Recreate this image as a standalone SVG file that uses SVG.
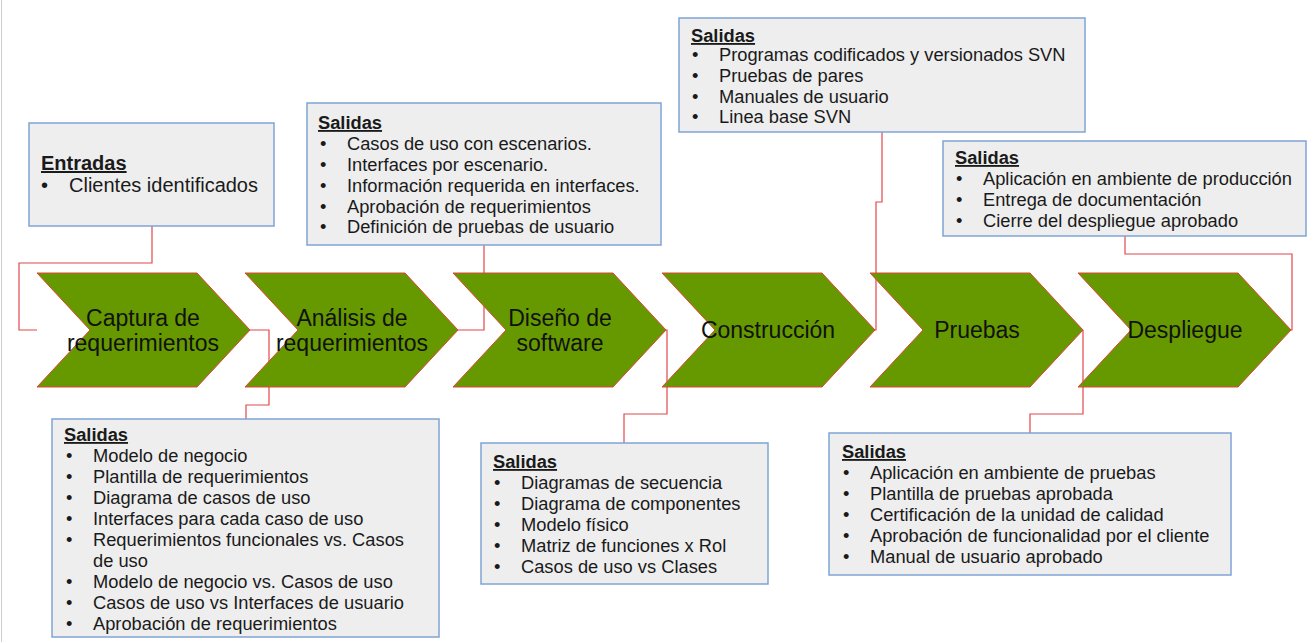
<svg xmlns="http://www.w3.org/2000/svg" width="1316" height="642" viewBox="0 0 1316 642">
<style>
.chev{fill:#669900;stroke:#e0453a;stroke-width:1}
.ct{font-family:"Liberation Sans",Arial,sans-serif;font-size:23px;fill:#111;text-anchor:middle}
.box{fill:#eeeeee;stroke:#7fa4d4;stroke-width:1.5}
.bt{font-family:"Liberation Sans",Arial,sans-serif;font-size:18.3px;fill:#1a1a1a}
.bt20{font-family:"Liberation Sans",Arial,sans-serif;font-size:20px;fill:#1a1a1a}
.hd{font-weight:bold;text-decoration:underline}
.con{fill:none;stroke:#e2484c;stroke-width:1.2}
</style>
<defs>
<polygon id="chevron" points="0,0 160,0 213,57 160,114 0,114 53,57"/>
</defs>
<rect x="0" y="0" width="1316" height="642" fill="#ffffff"/>
<line x1="1.5" y1="0" x2="1.5" y2="642" stroke="#cccccc" stroke-width="1"/>

<g id="connectors">
<polyline class="con" points="152,226 152,263 19,263 19,330 37,330"/>
<polyline class="con" points="250,330 269,330 269,405 246,405 246,419"/>
<polyline class="con" points="484,245 484,330 458,330"/>
<polyline class="con" points="666,330 667,330 667,414 624,414 624,443"/>
<polyline class="con" points="882,132 882,202 876,202 876,330 875,330"/>
<polyline class="con" points="1083,330 1083,414 1030,414 1030,433"/>
<polyline class="con" points="1125,236 1125,254 1292,254 1292,330 1291,330"/>
</g>

<g id="n1"><use href="#chevron" class="chev" x="37" y="273"/><text class="ct" x="143" y="326">Captura de</text><text class="ct" x="143" y="351">requerimientos</text></g>
<g id="n2"><use href="#chevron" class="chev" x="245" y="273"/><text class="ct" x="352" y="326">Análisis de</text><text class="ct" x="352" y="351">requerimientos</text></g>
<g id="n3"><use href="#chevron" class="chev" x="453" y="273"/><text class="ct" x="560" y="326">Diseño de</text><text class="ct" x="560" y="351">software</text></g>
<g id="n4"><use href="#chevron" class="chev" x="662" y="273"/><text class="ct" x="768" y="338">Construcción</text></g>
<g id="n5"><use href="#chevron" class="chev" x="870" y="273"/><text class="ct" x="977" y="338">Pruebas</text></g>
<g id="n6"><use href="#chevron" class="chev" x="1078" y="273"/><text class="ct" x="1185" y="338">Despliegue</text></g>

<g id="b-entradas">
<rect class="box" x="29" y="123" width="245" height="103"/>
<text class="bt20 hd" x="41" y="170">Entradas</text>
<text class="bt20" x="41" y="192">•</text><text class="bt20" x="69" y="192">Clientes identificados</text>
</g>

<g id="b-analisis-top">
<rect class="box" x="307" y="103" width="354" height="142"/>
<text class="bt hd" x="318" y="129">Salidas</text>
<g class="bt">
<text x="320" y="150">•</text><text x="347" y="150">Casos de uso con escenarios.</text>
<text x="320" y="171">•</text><text x="347" y="171">Interfaces por escenario.</text>
<text x="320" y="192">•</text><text x="347" y="192">Información requerida en interfaces.</text>
<text x="320" y="213">•</text><text x="347" y="213">Aprobación de requerimientos</text>
<text x="320" y="233">•</text><text x="347" y="233">Definición de pruebas de usuario</text>
</g>
</g>

<g id="b-construccion">
<rect class="box" x="679" y="18" width="406" height="114"/>
<text class="bt hd" x="691" y="42">Salidas</text>
<g class="bt">
<text x="692" y="61">•</text><text x="719" y="61">Programas codificados y versionados SVN</text>
<text x="692" y="82">•</text><text x="719" y="82">Pruebas de pares</text>
<text x="692" y="103">•</text><text x="719" y="103">Manuales de usuario</text>
<text x="692" y="123">•</text><text x="719" y="123">Linea base SVN</text>
</g>
</g>

<g id="b-despliegue">
<rect class="box" x="943" y="141" width="363" height="95"/>
<text class="bt hd" x="955" y="164">Salidas</text>
<g class="bt">
<text x="956" y="185">•</text><text x="983" y="185">Aplicación en ambiente de producción</text>
<text x="956" y="206">•</text><text x="983" y="206">Entrega de documentación</text>
<text x="956" y="227">•</text><text x="983" y="227">Cierre del despliegue aprobado</text>
</g>
</g>

<g id="b-analisis-bottom">
<rect class="box" x="52" y="419" width="387" height="218"/>
<text class="bt hd" x="64" y="441">Salidas</text>
<g class="bt">
<text x="66" y="462">•</text><text x="93" y="462">Modelo de negocio</text>
<text x="66" y="483">•</text><text x="93" y="483">Plantilla de requerimientos</text>
<text x="66" y="504">•</text><text x="93" y="504">Diagrama de casos de uso</text>
<text x="66" y="525">•</text><text x="93" y="525">Interfaces para cada caso de uso</text>
<text x="66" y="546">•</text><text x="93" y="546">Requerimientos funcionales vs. Casos</text>
<text x="93" y="567">de uso</text>
<text x="66" y="588">•</text><text x="93" y="588">Modelo de negocio vs. Casos de uso</text>
<text x="66" y="609">•</text><text x="93" y="609">Casos de uso vs Interfaces de usuario</text>
<text x="66" y="630">•</text><text x="93" y="630">Aprobación de requerimientos</text>
</g>
</g>

<g id="b-diseno">
<rect class="box" x="481" y="443" width="287" height="141"/>
<text class="bt hd" x="493" y="468">Salidas</text>
<g class="bt">
<text x="494" y="489">•</text><text x="521" y="489">Diagramas de secuencia</text>
<text x="494" y="510">•</text><text x="521" y="510">Diagrama de componentes</text>
<text x="494" y="531">•</text><text x="521" y="531">Modelo físico</text>
<text x="494" y="552">•</text><text x="521" y="552">Matriz de funciones x Rol</text>
<text x="494" y="573">•</text><text x="521" y="573">Casos de uso vs Clases</text>
</g>
</g>

<g id="b-pruebas">
<rect class="box" x="829" y="433" width="402" height="142"/>
<text class="bt hd" x="842" y="458">Salidas</text>
<g class="bt">
<text x="843" y="479">•</text><text x="870" y="479">Aplicación en ambiente de pruebas</text>
<text x="843" y="500">•</text><text x="870" y="500">Plantilla de pruebas aprobada</text>
<text x="843" y="521">•</text><text x="870" y="521">Certificación de la unidad de calidad</text>
<text x="843" y="542">•</text><text x="870" y="542">Aprobación de funcionalidad por el cliente</text>
<text x="843" y="563">•</text><text x="870" y="563">Manual de usuario aprobado</text>
</g>
</g>
</svg>
